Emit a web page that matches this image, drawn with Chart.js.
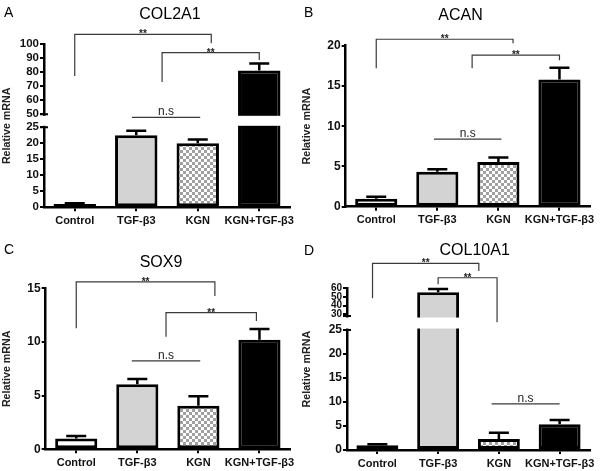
<!DOCTYPE html>
<html>
<head>
<meta charset="utf-8">
<script src="https://cdn.jsdelivr.net/npm/chart.js@4.4.1/dist/chart.umd.min.js"></script>
<style>
  body { margin: 0; background: #fff; }
  #wrap { position: relative; width: 600px; height: 471px; }
  canvas { position: absolute; }
</style>
</head>
<body>
<div id="wrap">
  <canvas id="pA" width="300" height="235" style="left:0;top:0"></canvas>
  <canvas id="pB" width="300" height="235" style="left:300px;top:0"></canvas>
  <canvas id="pC" width="300" height="236" style="left:0;top:235px"></canvas>
  <canvas id="pD" width="300" height="236" style="left:300px;top:235px"></canvas>
</div>
<script>
const categories = ['Control', 'TGF-β3', 'KGN', 'KGN+TGF-β3'];

const col2a1Values = [1.0, 22.5, 20.0, 81.2];
const col2a1Errors = [0.3, 1.4, 1.2, 5.0];
const col2a1Ticks = [0, 5, 10, 15, 20, 25, 50, 60, 70, 80, 90, 100];

const acanValues = [1.0, 4.35, 5.55, 15.8];
const acanErrors = [0.25, 0.3, 0.55, 1.45];
const acanTicks = [0, 5, 10, 15, 20];

const sox9Values = [1.0, 6.05, 4.05, 10.2];
const sox9Errors = [0.25, 0.5, 0.9, 1.0];
const sox9Ticks = [0, 5, 10, 15];

const col10a1Values = [1.0, 55.4, 2.3, 5.35];
const col10a1Errors = [0.2, 3.8, 1.3, 0.9];
const col10a1Ticks = [0, 5, 10, 15, 20, 25, 30, 40, 50, 60];

// significance marks: [from index, to index, line height, left drop, right drop, text]
const col2a1Marks = [[0, 2.22, 107.1, 77.3, 100.7, '**'], [1.42, 3, 94, 73.1, 88.8, '**'], [0.93, 2.04, 44.2, 44.2, 44.2, 'n.s']];
const acanMarks = [[0, 2.24, 20.8, 17.2, 20.3, '**'], [1.57, 3, 18.84, 17.2, 18.2, '**'], [0.945, 2.05, 8.4, 8.4, 8.4, 'n.s']];
const sox9Marks = [[0, 2.27, 15.6, 11.28, 14.29, '**'], [1.47, 2.95, 12.73, 10.49, 11.96, '**'], [0.91, 2.03, 8.23, 8.23, 8.23, 'n.s']];
const col10a1Marks = [[-0.08, 1.67, 88.8, 48.4, 79.9, '**'], [1, 1.97, 72.2, 64.6, 26.65, '**'], [1.88, 3.0, 9.6, 9.6, 9.6, 'n.s']];

const FONT = '"Liberation Sans", Arial, sans-serif';
Chart.defaults.font.family = FONT;
Chart.defaults.color = '#111';

function checker(ctx) {
  const c = document.createElement('canvas');
  c.width = 6; c.height = 6;
  const g = c.getContext('2d');
  g.fillStyle = '#fff'; g.fillRect(0, 0, 6, 6);
  g.fillStyle = '#a0a0a0'; g.fillRect(0, 0, 3, 3); g.fillRect(3, 3, 3, 3);
  return ctx.createPattern(c, 'repeat');
}

function drawPanel(id, letter, title, values, errors, ticks, marks, brk, box, pos) {
  // broken axis: values above brk.lo are squeezed into the upper segment
  const fwd = v => {
    if (!brk || v <= brk.lo) return v;
    if (v < brk.hi) return brk.lo + (v - brk.lo) * brk.gap / (brk.hi - brk.lo);
    return brk.lo + brk.gap + (v - brk.hi) * brk.ratio;
  };
  const canvas = document.getElementById(id);
  const ctx = canvas.getContext('2d');
  const fills = ['#ffffff', '#d3d3d3', checker(ctx), '#000000'];

  const extras = {
    id: 'extras',
    afterDatasetsDraw(chart) {
      const c = chart.ctx, ys = chart.scales.y, area = chart.chartArea;
      c.save();
      if (brk) {
        const y1 = ys.getPixelForValue(fwd(brk.lo));
        const y2 = ys.getPixelForValue(fwd(brk.hi));
        c.fillStyle = '#fff';
        c.fillRect(area.left - 3, y2 + 1.5, area.right - area.left + 3, y1 - y2 - 3);
        c.strokeStyle = '#000'; c.lineWidth = 2;
        c.beginPath();
        c.moveTo(area.left - 4, y1); c.lineTo(area.left + 4, y1);
        c.moveTo(area.left - 4, y2); c.lineTo(area.left + 4, y2);
        c.stroke();
      }
      c.strokeStyle = '#000'; c.lineWidth = 2.5;
      chart.getDatasetMeta(0).data.forEach((bar, i) => {
        const top = ys.getPixelForValue(fwd(values[i] + errors[i]));
        c.beginPath();
        c.moveTo(bar.x, bar.y); c.lineTo(bar.x, top);
        c.moveTo(bar.x - 10, top); c.lineTo(bar.x + 10, top);
        c.stroke();
      });
      c.restore();
    },
    afterDraw(chart) {
      const c = chart.ctx, xs = chart.scales.x, ys = chart.scales.y;
      c.save();
      c.strokeStyle = '#3a3a3a'; c.lineWidth = 1.2;
      c.fillStyle = '#222'; c.textAlign = 'center'; c.textBaseline = 'alphabetic';
      marks.forEach(([a, b, h, dl, dr, txt]) => {
        const x1 = xs.getPixelForValue(a), x2 = xs.getPixelForValue(b);
        const y = ys.getPixelForValue(fwd(h));
        c.beginPath();
        c.moveTo(x1, ys.getPixelForValue(fwd(dl)));
        c.lineTo(x1, y); c.lineTo(x2, y);
        c.lineTo(x2, ys.getPixelForValue(fwd(dr)));
        c.stroke();
        if (txt === 'n.s') {
          c.font = '12px ' + FONT;
          c.fillText(txt, (x1 + x2) / 2, y - 2);
        } else {
          c.font = 'bold 10px ' + FONT;
          c.fillText(txt, (x1 + x2) / 2, y + 3);
        }
      });
      c.fillStyle = '#000';
      c.textBaseline = 'middle';
      c.font = '16px ' + FONT;
      c.fillText(title, pos.titleX, pos.titleY);
      c.textAlign = 'left';
      c.font = '14px ' + FONT;
      c.fillText(letter, 4, pos.letterY);
      c.restore();
    }
  };

  new Chart(ctx, {
    type: 'bar',
    data: {
      labels: categories,
      datasets: [{
        data: values.map(fwd),
        backgroundColor: fills,
        borderColor: '#000',
        borderWidth: 3,
        borderSkipped: false,
        barPercentage: 0.69,
        categoryPercentage: 1
      }]
    },
    options: {
      responsive: false,
      animation: false,
      events: [],
      layout: { padding: { top: box.top, right: 300 - box.right, left: 0, bottom: 0 } },
      plugins: { legend: { display: false }, tooltip: { enabled: false } },
      scales: {
        x: {
          offset: true,
          grid: { offset: false, drawOnChartArea: false, tickLength: 4, lineWidth: 2, color: '#000' },
          border: { color: '#000', width: 2.5 },
          ticks: { color: '#111', font: { size: 11, weight: 'bold' }, padding: 3, autoSkip: false, maxRotation: 0 },
          afterFit: s => { s.height = canvas.height - box.bottom; }
        },
        y: {
          min: 0,
          max: fwd(ticks[ticks.length - 1]),
          afterBuildTicks: s => { s.ticks = ticks.map(v => ({ value: fwd(v) })); },
          grid: { drawOnChartArea: false, tickLength: 4, lineWidth: 2, color: '#000' },
          border: { color: '#000', width: 2.5 },
          ticks: {
            autoSkip: false,
            padding: 1,
            color: '#111',
            callback: (v, i) => ticks[i],
            font: c => ({ size: (brk && brk.small && c.tick && c.tick.value > fwd(brk.lo) + 0.01) ? 10 : pos.tickSize, weight: 'bold' })
          },
          title: { display: true, text: 'Relative mRNA', color: '#222', font: { size: 10.7, weight: 'bold' }, padding: { top: 1, bottom: 0 } },
          afterFit: s => { s.width = box.left; }
        }
      }
    },
    plugins: [extras]
  });
}

drawPanel('pA', 'A', 'COL2A1', col2a1Values, col2a1Errors, col2a1Ticks, col2a1Marks,
  { lo: 25, hi: 50, gap: 4.0625, ratio: 0.4375, small: false },
  { left: 44, top: 44.3, right: 290, bottom: 207.3 }, { titleX: 170, titleY: 15, letterY: 13, tickSize: 11.5 });
drawPanel('pB', 'B', 'ACAN', acanValues, acanErrors, acanTicks, acanMarks, null,
  { left: 45.7, top: 45.7, right: 290, bottom: 206.7 }, { titleX: 160.5, titleY: 15.5, letterY: 13, tickSize: 12 });
drawPanel('pC', 'C', 'SOX9', sox9Values, sox9Errors, sox9Ticks, sox9Marks, null,
  { left: 45.7, top: 53.3, right: 290, bottom: 214.3 }, { titleX: 161, titleY: 28, letterY: 15.5, tickSize: 12 });
drawPanel('pD', 'D', 'COL10A1', col10a1Values, col10a1Errors, col10a1Ticks, col10a1Marks,
  { lo: 25, hi: 28, gap: 2.917, ratio: 0.1806, small: true },
  { left: 47, top: 53.3, right: 290, bottom: 215 }, { titleX: 174.7, titleY: 16, letterY: 16, tickSize: 12 });
</script>
</body>
</html>
